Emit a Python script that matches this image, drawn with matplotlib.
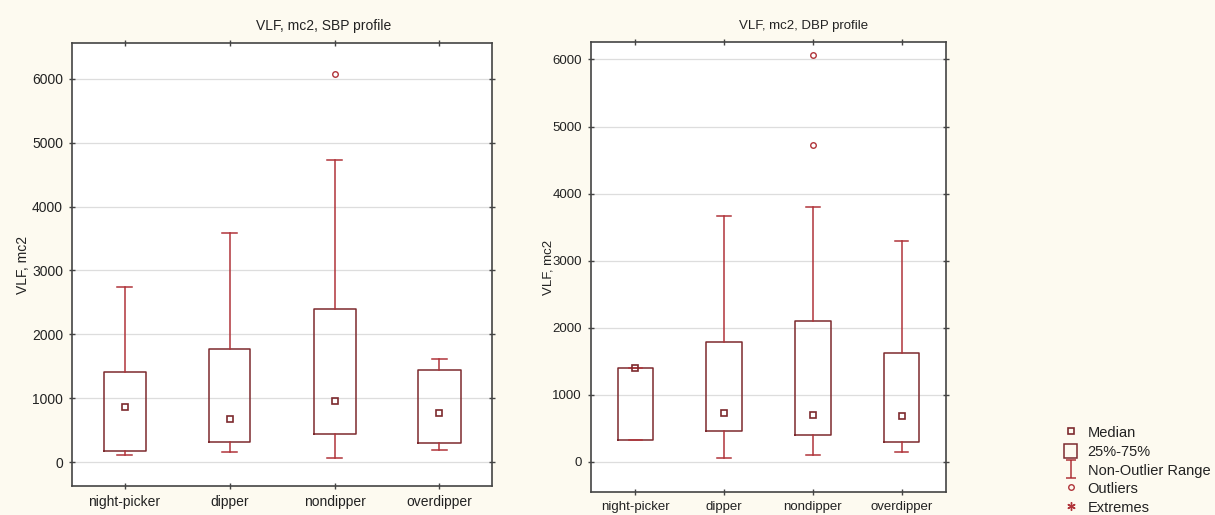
import matplotlib
matplotlib.use("Agg")
import matplotlib.pyplot as plt
from matplotlib.lines import Line2D
from matplotlib.patches import Rectangle
from matplotlib.path import Path

plt.rcParams['font.family'] = ['Liberation Sans', 'DejaVu Sans']

groups = ["night-picker", "dipper", "nondipper", "overdipper"]

# SBP profile
sbp_whislo = [105, 152, 58, 188]
sbp_q1 = [167, 308, 443, 297]
sbp_med = [866, 678, 950, 762]
sbp_q3 = [1403, 1773, 2394, 1440]
sbp_whishi = [2743, 3589, 4726, 1612]
sbp_outliers = [[], [], [6067], []]

# DBP profile
dbp_whislo = [318, 60, 109, 149]
dbp_q1 = [318, 467, 407, 299]
dbp_med = [1393, 726, 691, 676]
dbp_q3 = [1403, 1791, 2094, 1621]
dbp_whishi = [1403, 3672, 3796, 3288]
dbp_outliers = [[], [], [6069, 4731], []]

box_col = "#7d2a2e"
whisk_col = "#b0343a"
bg = "#fdfaf0"

fig = plt.figure(figsize=(12.15, 5.15), dpi=100, facecolor=bg)
W, H = 1215, 515


def draw(ax, whislo, q1, med, q3, whishi, outl, ylim, ylabel, label_x, fs):
    stats = []
    for i, g in enumerate(groups):
        stats.append(dict(label=g, whislo=whislo[i], q1=q1[i], med=med[i],
                          q3=q3[i], whishi=whishi[i], fliers=outl[i]))
    ax.bxp(stats, positions=range(len(groups)), widths=0.4,
           boxprops=dict(color=box_col, linewidth=1.1),
           whiskerprops=dict(color=whisk_col, linewidth=1.1),
           capprops=dict(color=whisk_col, linewidth=1.1),
           medianprops=dict(linewidth=0),
           flierprops=dict(marker='o', markersize=4, markerfacecolor='none',
                           markeredgecolor=whisk_col, markeredgewidth=1),
           capwidths=0.15, zorder=3)
    ax.plot(range(len(groups)), med, linestyle='none', marker='s', markersize=5,
            markerfacecolor='none', markeredgecolor=box_col, markeredgewidth=1.2,
            zorder=4)
    ax.set_xlim(-0.5, 3.5)
    ax.set_ylim(*ylim)
    ax.set_yticks(range(0, 7000, 1000))
    ax.set_xticks(range(len(groups)))
    ax.set_xticklabels(groups)
    ax.yaxis.grid(True, color="#dddddd", linewidth=0.9)
    ax.set_axisbelow(True)
    ax.tick_params(direction='inout', length=5, width=1, color="#444444",
                   labelsize=fs, labelcolor="#222222",
                   top=True, right=True, pad=4)
    for s in ax.spines.values():
        s.set_color("#444444")
        s.set_linewidth(1.2)
    ax.set_facecolor("white")
    ax.set_ylabel(ylabel, fontsize=fs, color="#222222")
    ax.yaxis.set_label_coords(label_x, 0.5)


ax1 = fig.add_axes([72 / W, (H - 486) / H, 420 / W, 443 / H])
draw(ax1, sbp_whislo, sbp_q1, sbp_med, sbp_q3, sbp_whishi, sbp_outliers,
     (-375, 6560), "VLF, mc2", -0.099, 10)
fig.text(324 / W, 1 - 26 / H, "VLF, mc2, SBP profile", ha='center', va='center',
         fontsize=10, color="#222222")

ax2 = fig.add_axes([591 / W, (H - 492) / H, 355 / W, 450 / H])
draw(ax2, dbp_whislo, dbp_q1, dbp_med, dbp_q3, dbp_whishi, dbp_outliers,
     (-450, 6260), "VLF, mc2", -0.103, 9.5)
fig.text(804 / W, 1 - 26 / H, "VLF, mc2, DBP profile", ha='center', va='center',
         fontsize=9.5, color="#222222")

ibeam = Path([(-0.6, 1), (0.6, 1), (0, 1), (0, -1), (-0.6, -1), (0.6, -1)],
             [Path.MOVETO, Path.LINETO, Path.MOVETO, Path.LINETO, Path.MOVETO, Path.LINETO])
handles = [
    Line2D([], [], linestyle='none', marker='s', markersize=5, markerfacecolor='none',
           markeredgecolor=box_col, markeredgewidth=1.2),
    Rectangle((0, 0), 1, 1, facecolor='none', edgecolor=box_col, linewidth=1.1),
    Line2D([], [], linestyle='none', marker=ibeam, markersize=13, markerfacecolor='none',
           markeredgecolor=whisk_col, markeredgewidth=1.1),
    Line2D([], [], linestyle='none', marker='o', markersize=4, markerfacecolor='none',
           markeredgecolor=whisk_col, markeredgewidth=1),
    Line2D([], [], linestyle='none', marker=(6, 2, 0), markersize=6,
           markeredgecolor=whisk_col, markeredgewidth=1),
]
labels = ["Median", "25%-75%", "Non-Outlier Range", "Outliers", "Extremes"]
fig.legend(handles, labels, loc='lower left', bbox_to_anchor=(1054 / W, -10 / H),
           frameon=False, fontsize=10.5, handlelength=0.9, handleheight=1.1,
           handletextpad=0.7, labelspacing=0.25, borderpad=0.2,
           labelcolor="#222222")

fig.savefig("out.png", dpi=100, facecolor=bg)
